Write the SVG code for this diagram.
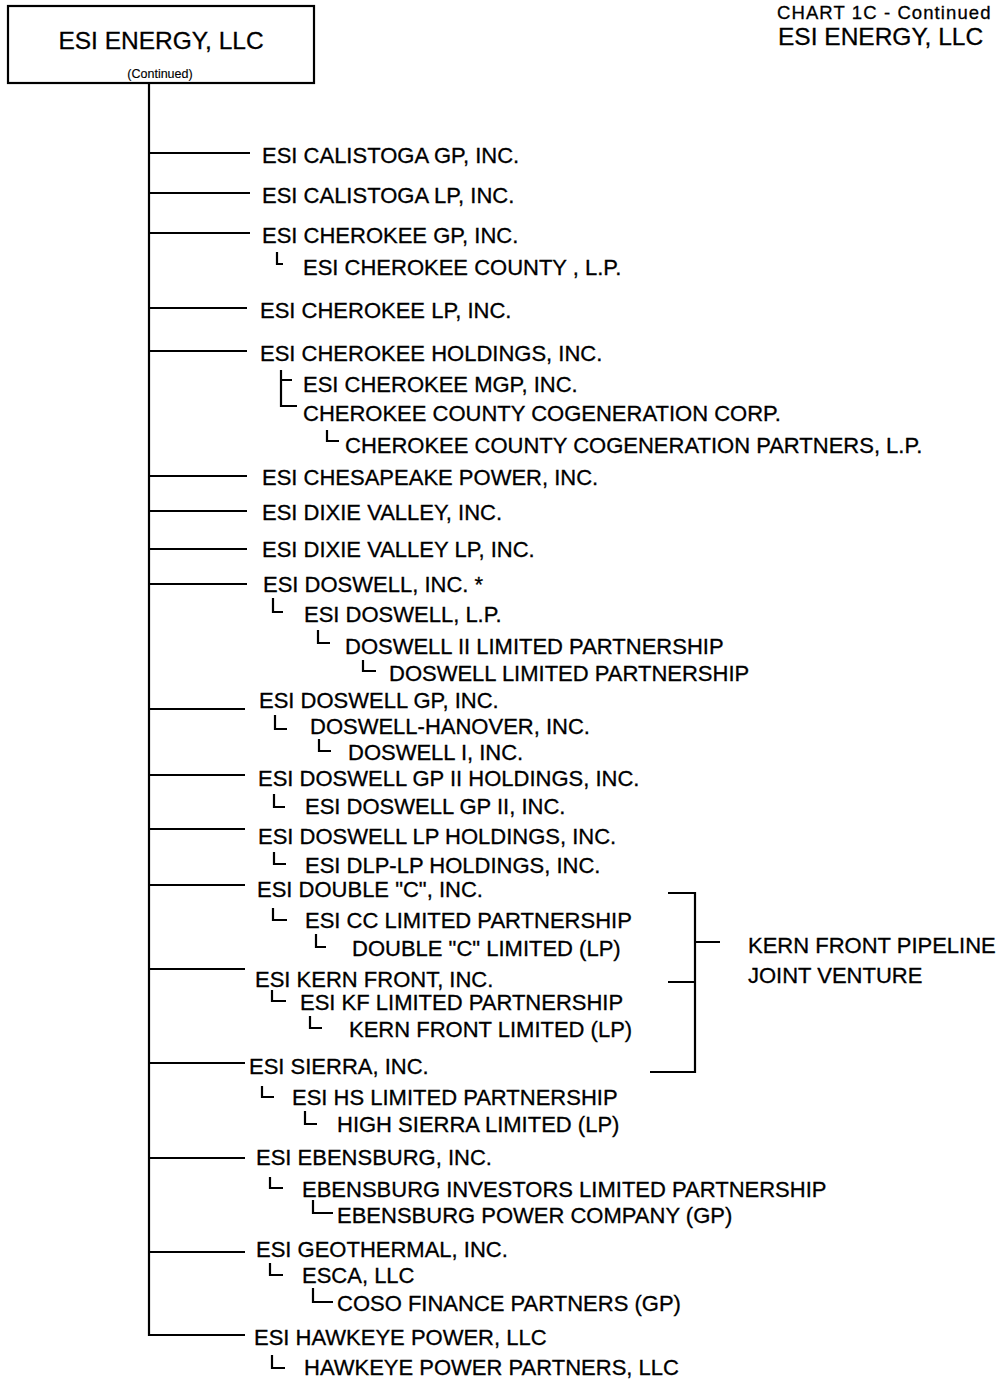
<svg xmlns="http://www.w3.org/2000/svg" width="1001" height="1380" viewBox="0 0 1001 1380">
<style>
text{font-family:"Liberation Sans",Arial,sans-serif;fill:#000;stroke:#000;stroke-width:0.3}
.t{font-size:22px}
.h{font-size:24.5px}
.s{font-size:12.5px;stroke-width:0.15}
.hd{font-size:18.5px;letter-spacing:1.1px}
.ln{stroke:#000;stroke-width:2.2;fill:none}
</style>
<rect width="1001" height="1380" fill="#fff"/>
<g id="root">
<rect x="8" y="6" width="306" height="77" class="ln"/>
<text class="h" x="161" y="49" text-anchor="middle">ESI ENERGY, LLC</text>
<text class="s" x="160" y="78" text-anchor="middle">(Continued)</text>
</g>
<g id="header">
<text class="hd" x="777" y="18.5">CHART 1C - Continued</text>
<text class="h" x="778" y="45">ESI ENERGY, LLC</text>
</g>
<g id="connectors" class="ln">
<path d="M149 83V1336"/>
<path d="M149 153H250M149 193H250M149 233H250M149 308H247M149 351H247M149 476H247M149 511H247M149 549H247M149 584H247M149 709H245M149 775H245M149 829H245M149 885H245M149 969H245M149 1063H245M149 1158H245M149 1252H245M149 1335H245"/>
<path d="M277 252V264H283"/>
<path d="M281 370V406H297M281 380H292"/>
<path d="M327 430V441H339"/>
<path d="M273 598V612H283M318 630V643H330M363 660V671H376"/>
<path d="M275 715V729H287M319 739V751H331"/>
<path d="M274 794V807H285M274 852V864H286"/>
<path d="M273 908V920H287M316 934V947H326"/>
<path d="M272 990V1001H286M310 1016V1028H322"/>
<path d="M262 1086V1097H274M305 1111V1124H317"/>
<path d="M270 1177V1188H283M313 1200V1213H333"/>
<path d="M270 1263V1275H283M313 1288V1302H333"/>
<path d="M272 1355V1368H285"/>
<path d="M668 893H695V1072H650M668 982H695M695 942H720"/>
</g>
<g id="n1"><text class="t" x="262" y="163">ESI CALISTOGA GP, INC.</text></g>
<g id="n2"><text class="t" x="262" y="203">ESI CALISTOGA LP, INC.</text></g>
<g id="n3"><text class="t" x="262" y="243">ESI CHEROKEE GP, INC.</text></g>
<g id="n3a"><text class="t" x="303" y="275">ESI CHEROKEE COUNTY , L.P.</text></g>
<g id="n4"><text class="t" x="260" y="318">ESI CHEROKEE LP, INC.</text></g>
<g id="n5"><text class="t" x="260" y="361">ESI CHEROKEE HOLDINGS, INC.</text></g>
<g id="n5a"><text class="t" x="303" y="392">ESI CHEROKEE MGP, INC.</text></g>
<g id="n5b"><text class="t" x="303" y="421">CHEROKEE COUNTY COGENERATION CORP.</text></g>
<g id="n5c"><text class="t" x="345" y="453">CHEROKEE COUNTY COGENERATION PARTNERS, L.P.</text></g>
<g id="n6"><text class="t" x="262" y="485">ESI CHESAPEAKE POWER, INC.</text></g>
<g id="n7"><text class="t" x="262" y="520">ESI DIXIE VALLEY, INC.</text></g>
<g id="n8"><text class="t" x="262" y="557">ESI DIXIE VALLEY LP, INC.</text></g>
<g id="n9"><text class="t" x="263" y="592">ESI DOSWELL, INC. *</text></g>
<g id="n9a"><text class="t" x="304" y="622">ESI DOSWELL, L.P.</text></g>
<g id="n9b"><text class="t" x="345" y="654">DOSWELL II LIMITED PARTNERSHIP</text></g>
<g id="n9c"><text class="t" x="389" y="681">DOSWELL LIMITED PARTNERSHIP</text></g>
<g id="n10"><text class="t" x="259" y="708">ESI DOSWELL GP, INC.</text></g>
<g id="n10a"><text class="t" x="310" y="734">DOSWELL-HANOVER, INC.</text></g>
<g id="n10b"><text class="t" x="348" y="760">DOSWELL I, INC.</text></g>
<g id="n11"><text class="t" x="258" y="786">ESI DOSWELL GP II HOLDINGS, INC.</text></g>
<g id="n11a"><text class="t" x="305" y="814">ESI DOSWELL GP II, INC.</text></g>
<g id="n12"><text class="t" x="258" y="844">ESI DOSWELL LP HOLDINGS, INC.</text></g>
<g id="n12a"><text class="t" x="305" y="873">ESI DLP-LP HOLDINGS, INC.</text></g>
<g id="n13"><text class="t" x="257" y="897">ESI DOUBLE "C", INC.</text></g>
<g id="n13a"><text class="t" x="305" y="928">ESI CC LIMITED PARTNERSHIP</text></g>
<g id="n13b"><text class="t" x="352" y="956">DOUBLE "C" LIMITED (LP)</text></g>
<g id="n14"><text class="t" x="255" y="987">ESI KERN FRONT, INC.</text></g>
<g id="n14a"><text class="t" x="300" y="1010">ESI KF LIMITED PARTNERSHIP</text></g>
<g id="n14b"><text class="t" x="349" y="1037">KERN FRONT LIMITED (LP)</text></g>
<g id="n15"><text class="t" x="249" y="1074">ESI SIERRA, INC.</text></g>
<g id="n15a"><text class="t" x="292" y="1105">ESI HS LIMITED PARTNERSHIP</text></g>
<g id="n15b"><text class="t" x="337" y="1132">HIGH SIERRA LIMITED (LP)</text></g>
<g id="kern"><text class="t" x="748" y="953">KERN FRONT PIPELINE</text><text class="t" x="748" y="983">JOINT VENTURE</text></g>
<g id="n16"><text class="t" x="256" y="1165">ESI EBENSBURG, INC.</text></g>
<g id="n16a"><text class="t" x="302" y="1197">EBENSBURG INVESTORS LIMITED PARTNERSHIP</text></g>
<g id="n16b"><text class="t" x="337" y="1223">EBENSBURG POWER COMPANY (GP)</text></g>
<g id="n17"><text class="t" x="256" y="1257">ESI GEOTHERMAL, INC.</text></g>
<g id="n17a"><text class="t" x="302" y="1283">ESCA, LLC</text></g>
<g id="n17b"><text class="t" x="337" y="1311">COSO FINANCE PARTNERS (GP)</text></g>
<g id="n18"><text class="t" x="254" y="1345">ESI HAWKEYE POWER, LLC</text></g>
<g id="n18a"><text class="t" x="304" y="1375">HAWKEYE POWER PARTNERS, LLC</text></g>
</svg>
